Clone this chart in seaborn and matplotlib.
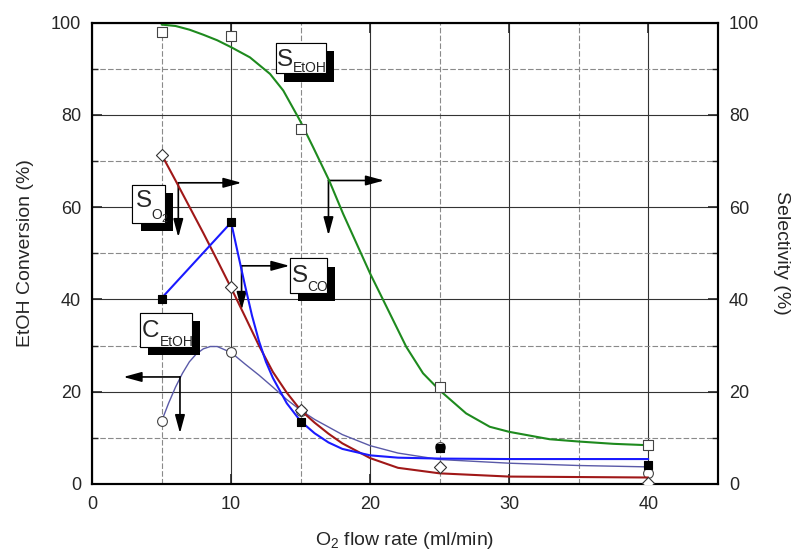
import numpy as np
import pandas as pd
import matplotlib
matplotlib.use("Agg")
import matplotlib.pyplot as plt
import seaborn as sns
from matplotlib import patheffects as pe
from matplotlib.patches import Rectangle
from matplotlib.ticker import MultipleLocator

# measured points (O2 flow rate in ml/min)
flow = [5, 10, 15, 25, 40]
c_etoh = [13.6, 28.6, 15.8, 8.1, 2.3]
s_etoh = [97.9, 97.2, 77.0, 21.0, 8.4]
s_o2 = [71.4, 42.7, 16.0, 3.6, 0.3]
s_co = [40.2, 56.8, 13.5, 7.7, 4.1]

# fitted curves
fit_s_etoh_x = [5, 6, 7, 8, 9, 10, 11.35, 12.8, 13.75, 14.95, 15.9, 17.05, 18.05, 19.25, 20,
                20.95, 22.6, 23.8, 25, 26.9, 28.6, 30, 32.9, 35, 37.5, 40]
fit_s_etoh_y = [99.6, 99.3, 98.5, 97.4, 96.2, 94.7, 92.5, 88.9, 85.3, 78.8, 73.0, 65.8, 58.6, 50.6, 45.6,
                39.8, 29.7, 24.0, 20.3, 15.3, 12.4, 11.3, 9.7, 9.2, 8.7, 8.4]

fit_s_o2_x = [5, 6, 7, 8, 9, 10, 11, 12, 13, 14, 15, 16, 17, 18, 20, 22, 25, 30, 35, 40]
fit_s_o2_y = [71.4, 65.8, 60.1, 54.4, 48.5, 42.5, 36.3, 30.0, 24.3, 19.8, 16.0, 13.3, 10.9, 8.8, 5.6,
              3.5, 2.3, 1.6, 1.5, 1.4]

fit_s_co_x = [5, 10, 10.5, 11, 11.5, 12, 12.5, 13, 14, 15, 16, 17, 18, 20, 22, 25, 30, 40]
fit_s_co_y = [40.3, 56.7, 49.8, 43.0, 36.5, 31.0, 26.5, 23.0, 17.5, 13.6, 11.0, 9.0, 7.6, 6.2, 5.7, 5.5,
              5.4, 5.4]

fit_c_etoh_x = [5, 5.5, 6, 6.5, 7, 7.5, 8, 8.5, 9, 10, 11, 12, 13, 14, 15, 16, 18, 20, 22, 25, 30, 35, 40]
fit_c_etoh_y = [13.6, 17.5, 21.0, 24.0, 26.5, 28.2, 29.3, 29.8, 29.8, 28.5, 26.0, 23.6, 21.0, 18.3, 16.0,
                14.0, 10.7, 8.3, 6.7, 5.3, 4.5, 4.0, 3.7]

sns.set_style("white")
plt.rcParams["font.family"] = ["Liberation Sans", "DejaVu Sans"]
plt.rcParams["mathtext.fontset"] = "custom"
plt.rcParams["mathtext.rm"] = "Liberation Sans"
plt.rcParams["mathtext.it"] = "Liberation Sans:italic"

fig = plt.figure(figsize=(7.94, 5.55), dpi=100)
ax = fig.add_axes([0.116, 0.128, 0.788, 0.831])
ax2 = ax.twinx()

green = "#1e8a1e"
red = "#a01818"
blue = "#1a1aff"
slate = "#5a5aa8"

# curves
sns.lineplot(x=fit_c_etoh_x, y=fit_c_etoh_y, ax=ax, color=slate, lw=1.0)
sns.lineplot(x=fit_s_etoh_x, y=fit_s_etoh_y, ax=ax2, color=green, lw=1.5)
sns.lineplot(x=fit_s_o2_x, y=fit_s_o2_y, ax=ax2, color=red, lw=1.5)
sns.lineplot(x=fit_s_co_x, y=fit_s_co_y, ax=ax2, color=blue, lw=1.5)

# markers
sns.scatterplot(x=flow, y=c_etoh, ax=ax, marker="o", s=50, facecolor="white",
                edgecolor="#444444", linewidth=0.8, zorder=5)
sns.scatterplot(x=flow, y=s_etoh, ax=ax2, marker="s", s=42, facecolor="white",
                edgecolor="#444444", linewidth=0.8, zorder=5)
sns.scatterplot(x=flow, y=s_o2, ax=ax2, marker="D", s=38, facecolor="white",
                edgecolor="#333333", linewidth=0.8, zorder=5)
sns.scatterplot(x=flow, y=s_co, ax=ax2, marker="s", s=40, facecolor="black",
                edgecolor="black", linewidth=0.8, zorder=6)

for a in (ax, ax2):
    a.set_xlim(0, 45)
    a.set_ylim(0, 100)
    for sp in a.spines.values():
        sp.set_linewidth(1.5)
        sp.set_color("black")

ax.xaxis.set_major_locator(MultipleLocator(10))
ax.xaxis.set_minor_locator(MultipleLocator(5))
ax.yaxis.set_major_locator(MultipleLocator(20))
ax.yaxis.set_minor_locator(MultipleLocator(10))
ax2.yaxis.set_major_locator(MultipleLocator(20))
ax2.yaxis.set_minor_locator(MultipleLocator(10))

ax.grid(which="major", color="#333333", lw=0.8, ls="-")
ax.grid(which="minor", color="#8a8a8a", lw=0.8, ls=(0, (5, 2)))
ax.set_axisbelow(True)

ax.tick_params(axis="x", which="major", direction="in", length=7, width=1.2,
               top=True, bottom=True, labelsize=13, pad=9)
ax.tick_params(axis="x", which="minor", length=0)
ax.tick_params(axis="y", which="major", direction="in", length=7, width=1.2,
               left=True, right=False, labelsize=13, pad=8)
ax.tick_params(axis="y", which="minor", direction="in", length=4, width=1.0, left=True)
ax2.tick_params(axis="y", which="major", direction="in", length=7, width=1.2,
                right=True, labelsize=13, pad=8)
ax2.tick_params(axis="y", which="minor", direction="in", length=4, width=1.0, right=True)

ax.set_xlabel(r"O$_2$ flow rate (ml/min)", fontsize=14, labelpad=12)
ax.set_ylabel("EtOH Conversion (%)", fontsize=14, labelpad=12)
ax2.set_ylabel("Selectivity (%)", fontsize=14, rotation=270, labelpad=22)

# label boxes with drop shadow: box, main letter, subscript pieces
boxes = [
    ((13.22, 89.0, 3.59, 6.6), ("S", 13.3, 90.6), [("EtOH", 14.42, 89.3, 10)]),
    ((2.90, 56.6, 2.34, 8.3), ("S", 3.15, 60.0), [("O", 4.29, 57.4, 10), ("2", 5.02, 56.8, 7.5)]),
    ((14.22, 41.5, 2.68, 7.4), ("S", 14.38, 43.7), [("CO", 15.5, 41.9, 10)]),
    ((3.45, 29.75, 3.71, 7.35), ("C", 3.58, 31.8), [("EtOH", 4.89, 30.0, 10)]),
]
shadow = [pe.withSimplePatchShadow(offset=(6, -6), shadow_rgbFace="black", alpha=1.0), pe.Normal()]
for (bx, by, bw, bh), (main, mx, my), subs in boxes:
    ax.add_patch(Rectangle((bx, by), bw, bh, fc="white", ec="black", lw=0.8,
                           zorder=8, path_effects=shadow))
    ax.text(mx, my, main, fontsize=17.5, ha="left", va="baseline", zorder=9)
    for stxt, sx, sy, fs in subs:
        ax.text(sx, sy, stxt, fontsize=fs, ha="left", va="baseline", zorder=9)

# L-shaped axis pointers: (corner, horizontal end, vertical end)
pointers = [
    ((6.2, 65.3), (10.75, 65.3), (6.2, 53.5)),
    ((17.0, 65.8), (21.0, 65.8), (17.0, 53.9)),
    ((10.75, 47.3), (14.2, 47.3), (10.75, 37.7)),
    ((6.32, 23.2), (2.25, 23.2), (6.32, 11.0)),
]
arrow_kw = dict(arrowstyle="-|>,head_length=1.1,head_width=0.3", color="black",
                lw=1.2, shrinkA=0, shrinkB=0, mutation_scale=10)
for corner, hend, vend in pointers:
    ax.annotate("", xy=hend, xytext=corner, arrowprops=arrow_kw, zorder=7)
    ax.annotate("", xy=vend, xytext=corner, arrowprops=arrow_kw, zorder=7)

fig.savefig("out.png", dpi=100, facecolor="white")
